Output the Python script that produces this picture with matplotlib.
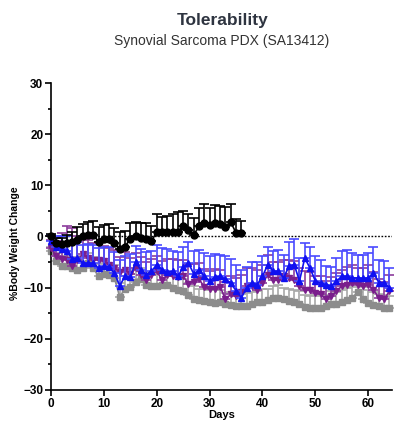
import numpy as np
import matplotlib
matplotlib.use("Agg")
import matplotlib.pyplot as plt
from matplotlib.ticker import MultipleLocator

plt.rcParams['font.family'] = ['Liberation Sans', 'DejaVu Sans']

# body weight change (%) per day, mean and upper SEM
days_short = np.arange(0, 37)
days_long = np.arange(0, 65)

black_mean = [0, -1.3, -1.5, -1.2, -1.0, -0.6, 0.0, 0.3, 0.3, -1.0,
              -0.4, -0.4, -1.3, -2.4, -2.0, -0.4, 0.0, -0.3, -0.5, -0.9,
              0.9, 0.8, 0.8, 0.9, 0.9, 2.0, 1.2, 0.3, 2.0, 2.7,
              2.3, 2.6, 2.5, 1.9, 2.8, 0.7, 0.7]
black_err = [0.5, 1.0, 1.3, 1.5, 1.8, 2.5, 2.5, 2.6, 2.7, 2.8,
             2.6, 2.8, 3.0, 3.2, 3.0, 3.0, 2.8, 3.0, 3.2, 3.0,
             3.5, 3.0, 3.2, 3.4, 3.8, 3.0, 3.2, 3.3, 3.6, 3.7,
             3.2, 3.5, 3.4, 3.8, 3.5, 2.7, 2.4]

gray_mean = [-2.9, -4.7, -5.7, -5.8, -6.2, -6.5, -6.2, -5.2, -6.2, -7.8,
             -7.4, -7.6, -8.1, -11.8, -10.2, -9.8, -8.8, -8.4, -9.4, -9.7,
             -9.7, -9.4, -9.4, -10.0, -10.4, -10.6, -11.4, -12.2, -12.4, -12.6,
             -12.8, -12.9, -12.8, -13.2, -13.4, -13.6, -13.6, -13.6, -13.2, -12.8,
             -12.8, -12.5, -12.0, -12.0, -12.2, -12.6, -12.8, -13.2, -13.8, -14.0,
             -14.0, -14.0, -13.6, -13.2, -13.2, -12.8, -12.5, -12.0, -10.8, -12.2,
             -13.0, -13.3, -13.6, -14.0, -14.0]
gray_err = [0.8, 1.5, 1.8, 2.0, 2.2, 2.0, 2.3, 2.0, 2.2, 2.4,
            2.2, 2.3, 2.5, 2.8, 2.5, 2.4, 2.2, 2.3, 2.5, 2.4,
            2.3, 2.5, 2.4, 2.2, 2.5, 2.3, 2.4, 2.5, 2.2, 2.4,
            2.3, 2.5, 2.4, 2.2, 2.5, 2.4, 2.3, 2.5, 2.4, 2.2,
            2.5, 2.3, 2.4, 2.5, 2.2, 2.4, 2.3, 2.5, 2.4, 2.3,
            2.5, 2.4, 2.2, 2.5, 2.3, 2.4, 2.5, 2.2, 2.4, 2.3,
            2.5, 2.4, 2.3, 2.5, 2.4]

purple_mean = [-2.2, -3.9, -4.4, -4.5, -5.8, -4.5, -3.5, -4.2, -4.5, -4.5,
               -4.8, -5.5, -6.2, -7.0, -6.5, -7.4, -6.2, -7.5, -8.5, -7.5,
               -6.8, -8.5, -7.5, -7.8, -8.0, -7.8, -9.2, -8.8, -8.3, -9.9,
               -10.2, -10.2, -9.8, -12.3, -11.3, -11.7, -10.8, -9.7, -9.7, -10.4,
               -9.1, -7.5, -8.5, -8.5, -7.8, -8.1, -8.5, -9.7, -10.4, -10.4,
               -11.0, -11.3, -12.3, -11.7, -10.7, -9.7, -9.4, -9.1, -9.4, -9.7,
               -9.4, -10.4, -12.0, -12.3, -10.7]
purple_err = [1.5, 3.0, 5.0, 6.5, 7.5, 4.5, 3.0, 3.5, 3.2, 3.5,
              3.0, 3.2, 3.5, 3.0, 3.5, 3.2, 3.0, 3.5, 3.5, 3.2,
              3.0, 3.8, 3.2, 3.5, 3.5, 3.2, 3.8, 3.5, 3.2, 3.6,
              3.5, 3.8, 3.2, 3.5, 3.6, 3.5, 3.2, 3.5, 3.6, 3.8,
              3.5, 3.8, 3.5, 3.6, 3.2, 3.5, 3.8, 3.5, 3.6, 3.5,
              3.2, 3.5, 3.6, 3.8, 3.5, 3.2, 3.5, 3.6, 3.2, 3.5,
              3.8, 3.5, 3.6, 3.5, 3.2]

blue_mean = [-0.8, -2.0, -2.4, -2.8, -4.4, -4.2, -5.2, -5.2, -5.2, -6.2,
             -5.8, -6.0, -7.2, -9.6, -7.8, -8.0, -5.0, -6.5, -7.5, -6.8,
             -5.5, -6.5, -7.0, -6.8, -7.8, -6.0, -5.2, -7.3, -6.6, -7.8,
             -8.6, -8.0, -7.8, -8.3, -9.1, -10.6, -12.0, -10.0, -9.1, -9.4,
             -7.8, -5.5, -6.8, -6.8, -8.1, -5.8, -5.5, -8.7, -4.2, -6.2,
             -8.7, -9.1, -9.4, -9.7, -8.7, -7.8, -7.8, -8.1, -8.1, -8.2,
             -8.1, -7.1, -9.0, -9.0, -10.0]
blue_err = [1.0, 2.0, 2.5, 2.8, 3.0, 3.2, 3.5, 3.8, 3.5, 4.0,
            3.8, 4.0, 4.2, 5.0, 4.0, 4.5, 3.2, 4.0, 4.5, 4.0,
            3.8, 4.2, 4.5, 4.0, 4.8, 4.0, 4.2, 4.5, 4.0, 4.5,
            4.8, 4.5, 4.2, 4.5, 4.8, 5.0, 5.5, 4.0, 4.2, 4.5,
            4.0, 3.5, 4.0, 4.2, 4.5, 4.8, 5.0, 4.5, 3.0, 4.2,
            4.8, 4.5, 3.6, 3.8, 4.5, 4.9, 5.2, 4.8, 4.5, 4.5,
            4.8, 5.0, 4.5, 4.2, 3.8]

fig = plt.figure(figsize=(3.96, 4.23), dpi=100)
ax = fig.add_axes([51 / 396, 33 / 423, 341 / 396, 307 / 423])


def draw(days, mean, err, color, ecolor, marker, ms, z):
    lower = np.zeros(len(err))
    ax.errorbar(days, mean, yerr=[lower, err], color=color, ecolor=ecolor,
                marker=marker, markersize=ms, linewidth=1.2, elinewidth=1.2,
                capsize=3.4, capthick=1.2, zorder=z, clip_on=False)


draw(days_long, gray_mean, gray_err, '#8c8c8c', '#a8a8a8', 's', 4.8, 2)
draw(days_long, purple_mean, purple_err, '#7a1e8c', '#8c3c9c', 'v', 5.0, 3)
draw(days_long, blue_mean, blue_err, '#1010f0', '#4a4aff', '^', 5.0, 4)
draw(days_short, black_mean, black_err, 'black', 'black', 'o', 5.0, 5)

ax.axhline(0, color='black', linestyle=(0, (1.2, 1.2)), linewidth=1.0, zorder=1)

ax.set_xlim(0, 64.5)
ax.set_ylim(-30, 30)
ax.xaxis.set_major_locator(MultipleLocator(10))
ax.yaxis.set_major_locator(MultipleLocator(10))
ax.yaxis.set_minor_locator(MultipleLocator(5))

for side in ('top', 'right'):
    ax.spines[side].set_visible(False)
for side in ('left', 'bottom'):
    ax.spines[side].set_linewidth(1.2)

ax.tick_params(axis='both', which='major', length=4, width=1.2, pad=1.5,
               labelsize=8.5)
ax.tick_params(axis='y', which='minor', length=2.5, width=1.2)
for lbl in ax.get_xticklabels() + ax.get_yticklabels():
    lbl.set_fontweight('bold')

ax.set_ylabel('%Body Weight Change', fontsize=7.5, fontweight='bold')
ax.yaxis.set_label_coords(-31 / 341, 147 / 307)
ax.set_xlabel('Days', fontsize=8, fontweight='bold')
ax.xaxis.set_label_coords(171 / 341, -20 / 307)

fig.text(223 / 396, 1 - 21 / 423, 'Tolerability', ha='center', va='center',
         fontsize=12.5, fontweight='bold', color='#2e3440')
fig.text(222 / 396, 1 - 41 / 423, 'Synovial Sarcoma PDX (SA13412)',
         ha='center', va='center', fontsize=10, color='#333333')

fig.savefig('out.png', dpi=100)
